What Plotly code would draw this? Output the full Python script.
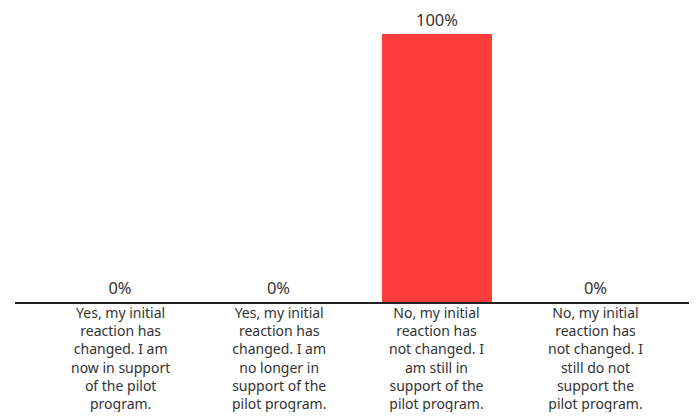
import plotly.graph_objects as go

categories = [
    "Yes, my initial<br>reaction has<br>changed. I am<br>now in support<br>of the pilot<br>program.",
    "Yes, my initial<br>reaction has<br>changed. I am<br>no longer in<br>support of the<br>pilot program.",
    "No, my initial<br>reaction has<br>not changed. I<br>am still in<br>support of the<br>pilot program.",
    "No, my initial<br>reaction has<br>not changed. I<br>still do not<br>support the<br>pilot program.",
]
values = [0, 0, 100, 0]
xpos = list(range(len(categories)))

FONT = "Noto Sans"

fig = go.Figure()
fig.add_trace(go.Bar(
    x=xpos, y=values, width=0.694,
    marker=dict(color="#FF3D3D", line=dict(width=0)),
    text=[f"{v}%" for v in values], textposition="outside",
    textfont=dict(size=16.5, color="#333333", family=FONT),
    cliponaxis=False,
))

for i, c in enumerate(categories):
    fig.add_annotation(x=i, y=0, xref="x", yref="paper", yanchor="top",
                       yshift=1, text=c, showarrow=False,
                       font=dict(size=14, color="#333333", family=FONT),
                       align="center")

fig.update_layout(
    width=681, height=404,
    margin=dict(l=7, r=0, t=26, b=110),
    paper_bgcolor="white", plot_bgcolor="white",
    showlegend=False,
    xaxis=dict(range=[-0.6625, 3.59], showticklabels=False, showgrid=False,
               zeroline=False, showline=True, linecolor="#222222", linewidth=2),
    yaxis=dict(range=[0, 100], visible=False, showgrid=False, zeroline=False),
    font=dict(family=FONT),
)
fig.write_html("out.html")
